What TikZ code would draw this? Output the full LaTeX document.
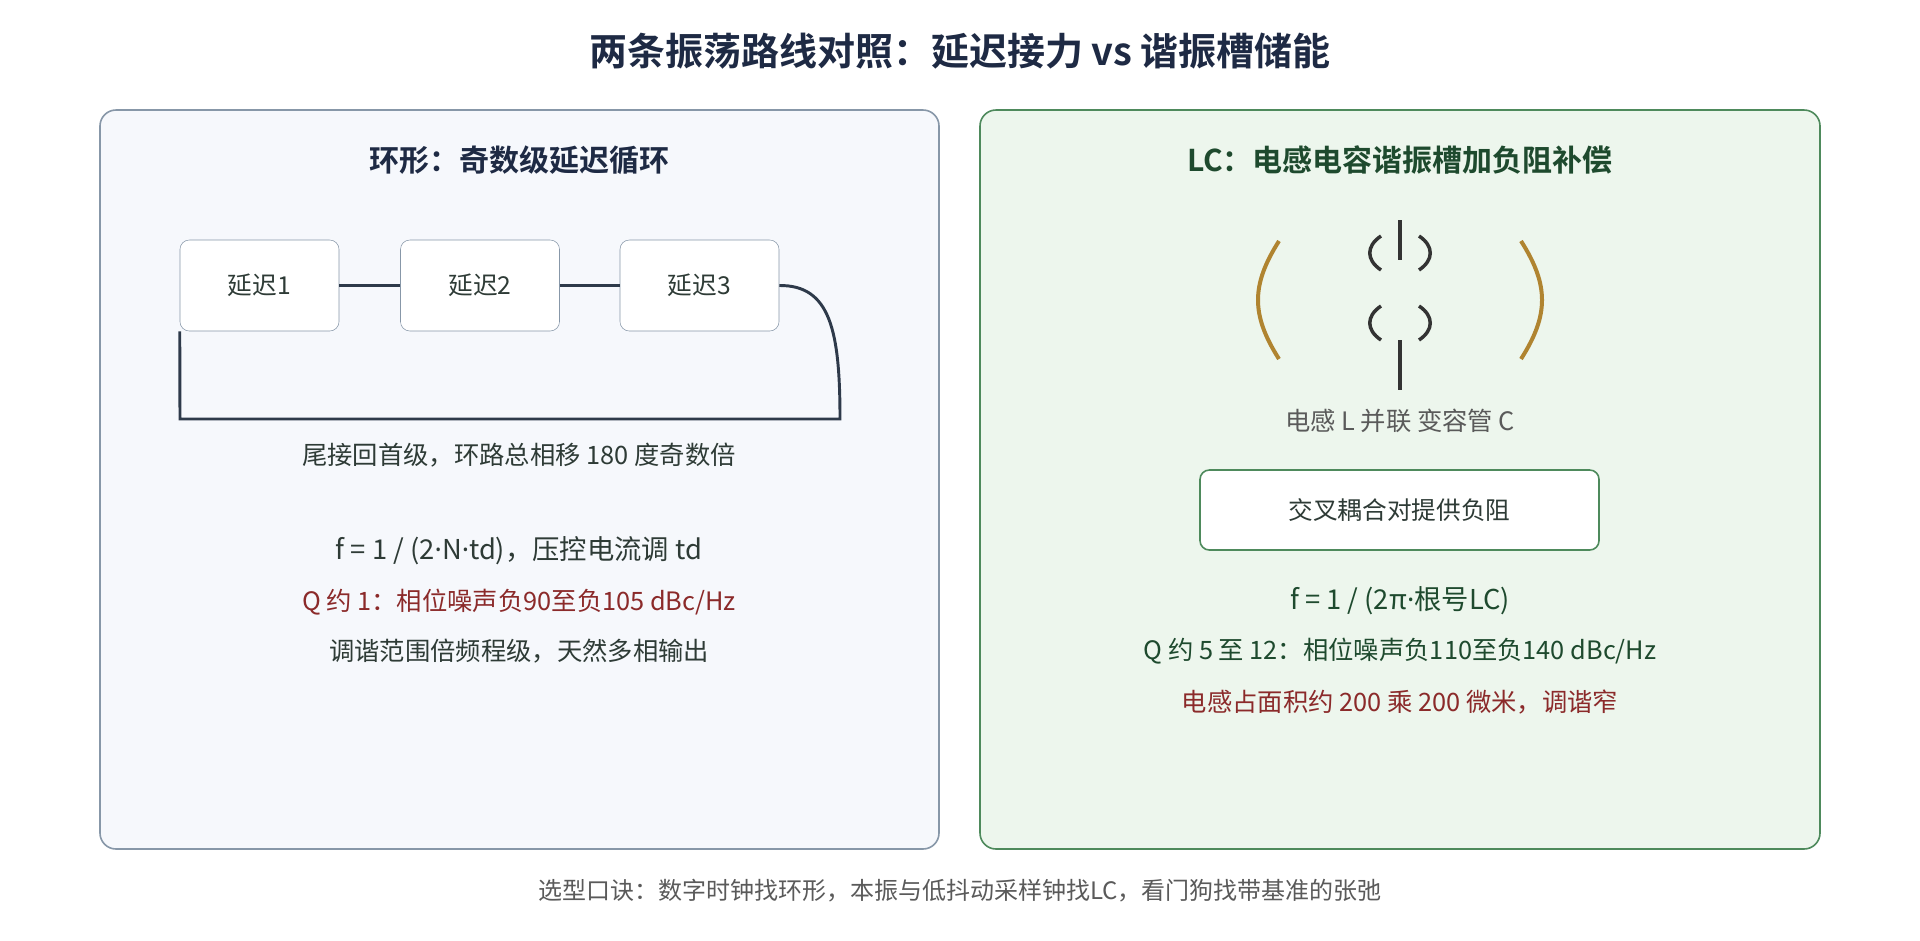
\documentclass[tikz,border=0pt]{standalone}
\usepackage{fontspec}
\setmainfont{Noto Sans CJK SC}
\newfontfamily\cjkb{Noto Sans CJK SC Bold}
\newfontfamily\lat{Noto Sans}
\newcommand{\md}{{\lat ·}}
\definecolor{navy}{HTML}{1E2A44}
\definecolor{lpfill}{HTML}{F6F8FC}
\definecolor{lpdraw}{HTML}{8797A8}
\definecolor{rpfill}{HTML}{EDF6ED}
\definecolor{rpdraw}{HTML}{4E8A5C}
\definecolor{dgreen}{HTML}{1E4A2E}
\definecolor{dred}{HTML}{8B2A2A}
\definecolor{txt}{HTML}{2E3B36}
\definecolor{gray5}{HTML}{5A5A5A}
\definecolor{gold}{HTML}{B08430}
\definecolor{wire}{HTML}{2E3A4A}
\begin{document}
\begin{tikzpicture}[x=0.75pt,y=-0.75pt,
  fs/.style={font=\fontsize{#1}{#1}\selectfont},
  delay/.style={draw=lpdraw,fill=white,rounded corners=7pt,minimum width=159*0.75pt,minimum height=91*0.75pt,fs=18.5,text=txt},
  body/.style={fs=19,text=txt,anchor=center}]
\useasboundingbox (0,0) rectangle (1920,940);
\fill[white] (0,0) rectangle (1920,940);
\node[text=navy,font=\cjkb\fontsize{28.5}{28.5}\selectfont] (title) at (960,51) {两条振荡路线对照：延迟接力 vs 谐振槽储能};
\draw[draw=lpdraw,fill=lpfill,rounded corners=12pt,line width=1.2pt] (100,110) rectangle (939,849);
\draw[draw=rpdraw,fill=rpfill,rounded corners=12pt,line width=1.2pt] (980,110) rectangle (1820,849);
\node[text=navy,font=\cjkb\fontsize{22.5}{22.5}\selectfont] (lh) at (519,160) {环形：奇数级延迟循环};
\node[text=dgreen,font=\cjkb\fontsize{22.5}{22.5}\selectfont] (rh) at (1400,160) {LC：电感电容谐振槽加负阻补偿};
\node[delay] (d1) at (259.5,285.5) {延迟1};
\node[delay] (d2) at (480,285.5) {延迟2};
\node[delay] (d3) at (699.5,285.5) {延迟3};
\draw[wire,line width=2pt] (d1) -- (d2);
\draw[wire,line width=2pt] (d2) -- (d3);
\coordinate (c1) at (840,419);
\coordinate (c2) at (180,419);
\draw[wire,line width=2.2pt] (d3.east) .. controls (830,285) and (840,330) .. (c1) -- (c2) -- (d1.south west);
\node[body] (cap) at (519,455) {尾接回首级，环路总相移 180 度奇数倍};
\node[fs=20.5,text=txt] (lf) at (519,551) {f = 1 / (2\md N\md td)，压控电流调 td};
\node[body,text=dred] (lq) at (519,602) {Q 约 1：相位噪声负90至负105 dBc/Hz};
\node[body] (lt) at (519,651) {调谐范围倍频程级，天然多相输出};
% LC symbol
\draw[gold,line width=3pt] (1279,241) .. controls (1251,285) and (1251,315) .. (1279,359);
\draw[gold,line width=3pt] (1521,241) .. controls (1549,285) and (1549,315) .. (1521,359);
\draw[black!80,line width=3pt] (1400,220) -- (1400,260);
\draw[black!80,line width=3pt] (1400,340) -- (1400,390);
\draw[black!80,line width=2.6pt] (1381,236) .. controls (1366,246) and (1366,260) .. (1381,270);
\draw[black!80,line width=2.6pt] (1419,236) .. controls (1434,246) and (1434,260) .. (1419,270);
\draw[black!80,line width=2.6pt] (1381,306) .. controls (1366,316) and (1366,330) .. (1381,340);
\draw[black!80,line width=2.6pt] (1419,306) .. controls (1434,316) and (1434,330) .. (1419,340);
\node[body,text=gray5] (lcl) at (1400,421) {电感 L 并联 变容管 C};
\node[draw=rpdraw,fill=white,rounded corners=7pt,line width=1.2pt,minimum width=399*0.75pt,minimum height=80*0.75pt,fs=18.5,text=txt] (neg) at (1399.5,510) {交叉耦合对提供负阻};
\node[fs=20.5,text=dgreen] (rf) at (1400,601) {f = 1 / (2π\md 根号LC)};
\node[body,text=dgreen] (rq) at (1400,651) {Q 约 5 至 12：相位噪声负110至负140 dBc/Hz};
\node[body,text=dred] (ra) at (1400,702) {电感占面积约 200 乘 200 微米，调谐窄};
\node[fs=18,text=gray5] (foot) at (960,891) {选型口诀：数字时钟找环形，本振与低抖动采样钟找LC，看门狗找带基准的张弛};
\end{tikzpicture}
\end{document}
